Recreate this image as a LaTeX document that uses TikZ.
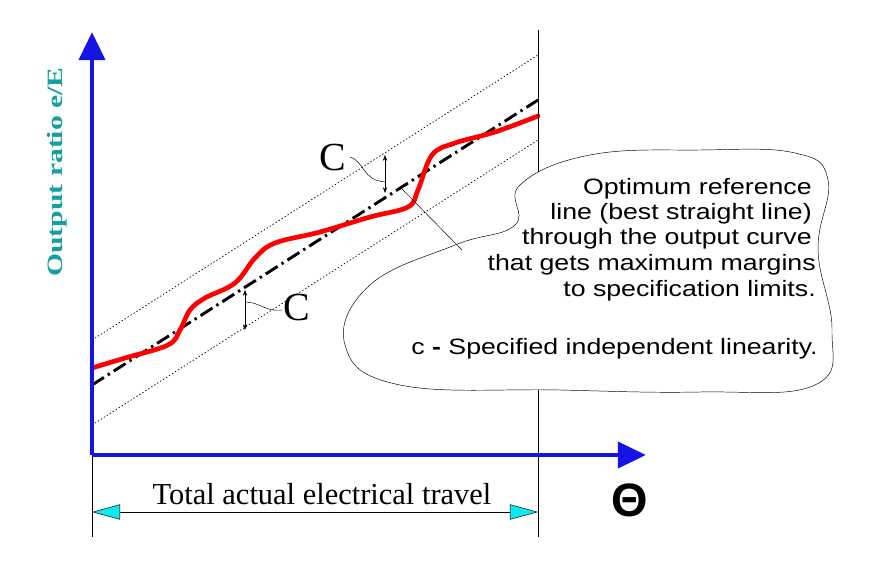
\documentclass[tikz,border=0pt]{standalone}
\usepackage{fontspec}
\setsansfont{Liberation Sans}
\setmainfont{Liberation Serif}
\usetikzlibrary{arrows.meta}
\definecolor{axisblue}{RGB}{20,20,230}
\definecolor{labelteal}{RGB}{20,160,160}
\definecolor{tipcyan}{RGB}{20,230,240}
\tikzstyle{axis} = [axisblue, line width=4pt, -{Triangle[length=24pt,width=22pt]}]
\tikzstyle{limit} = [dash pattern=on 1.2pt off 1.8pt, line width=0.6pt]
\tikzstyle{cmark} = [thin, {Stealth[length=5pt]}-{Stealth[length=5pt]}]
\tikzstyle{note} = [font=\sffamily\fontsize{19}{21}\selectfont, anchor=east, inner sep=0pt, xscale=1.2, transform shape]
\begin{document}
\begin{tikzpicture}[x=0.03cm, y=-0.03cm]
\useasboundingbox (0,0) rectangle (880,570);
% reference and limit lines
\coordinate (ls) at (92,385); \coordinate (le) at (538,100);
\draw[limit] (92,340) -- (538,55);
\draw[limit] (92,425) -- (538,140);
\draw[line width=2.5pt, dash pattern=on 12pt off 4pt on 2pt off 4pt] (ls) -- (le);
% output curve
\draw[red, line width=4pt, line cap=round] plot[smooth, tension=0.6] coordinates
  {(92,368) (125,358) (168,345) (180,330) (190,310) (205,298) (235,283) (255,258) (275,243) (320,232) (370,217) (408,207) (418,190) (432,155) (455,143) (495,132) (538,116)};
% verticals
\draw[thin] (538,30) -- (538,537);
\draw[thin] (92,455) -- (92,537);
% axes
\draw[axis] (92,455) -- (92,32);
\draw[axis] (92,455) -- (646,455);
\node[labelteal, rotate=90, font=\bfseries\fontsize{22}{24}\selectfont, yscale=0.85, xscale=1.15, transform shape] (ylab) at (57,172) {Output ratio e/E};
\node[font=\sffamily\bfseries\fontsize{40}{42}\selectfont] (theta) at (630,500) {Θ};
% travel dimension
\coordinate (da) at (92,512); \coordinate (db) at (538,512);
\draw[thin, {Triangle[length=24pt,width=13pt,fill=tipcyan]}-{Triangle[length=24pt,width=13pt,fill=tipcyan]}] (da) -- (db);
\node[font=\fontsize{26}{28}\selectfont] (travel) at (322,494) {Total actual electrical travel};
% C marks
\coordinate (c1a) at (385,155); \coordinate (c1b) at (385,193);
\draw[cmark] (c1a) -- (c1b);
\node[font=\fontsize{34}{36}\selectfont] (c1) at (333,158) {C};
\draw[thin] (350,157) .. controls (365,162) and (362,180) .. (385,182);
\coordinate (c2a) at (245,290); \coordinate (c2b) at (245,330);
\draw[cmark] (c2a) -- (c2b);
\node[font=\fontsize{34}{36}\selectfont] (c2) at (297,308) {C};
\draw[thin] (282,310) .. controls (265,312) and (260,302) .. (245,302);
% callout
\draw[thin, fill=white] plot[smooth cycle, tension=0.7] coordinates
  {(520,185) (590,155) (700,150) (795,153) (828,180) (818,250) (832,330) (815,385) (700,392) (560,390) (400,385) (345,345) (370,285) (455,245) (515,225)};
\coordinate (lead) at (400,187);
\draw[thin] (lead) -- (462,250);
\node[note] (n1) at (812,189) {Optimum reference};
\node[note] (n2) at (812,214) {line (best straight line)};
\node[note] (n3) at (812,239) {through the output curve };
\node[note] (n4) at (816,265) {that gets maximum margins};
\node[note] (n5) at (816,291) {to specification limits.};
\node[note] (n6) at (818,349) {c \textbf{-} Specified independent linearity.};
\end{tikzpicture}
\end{document}
